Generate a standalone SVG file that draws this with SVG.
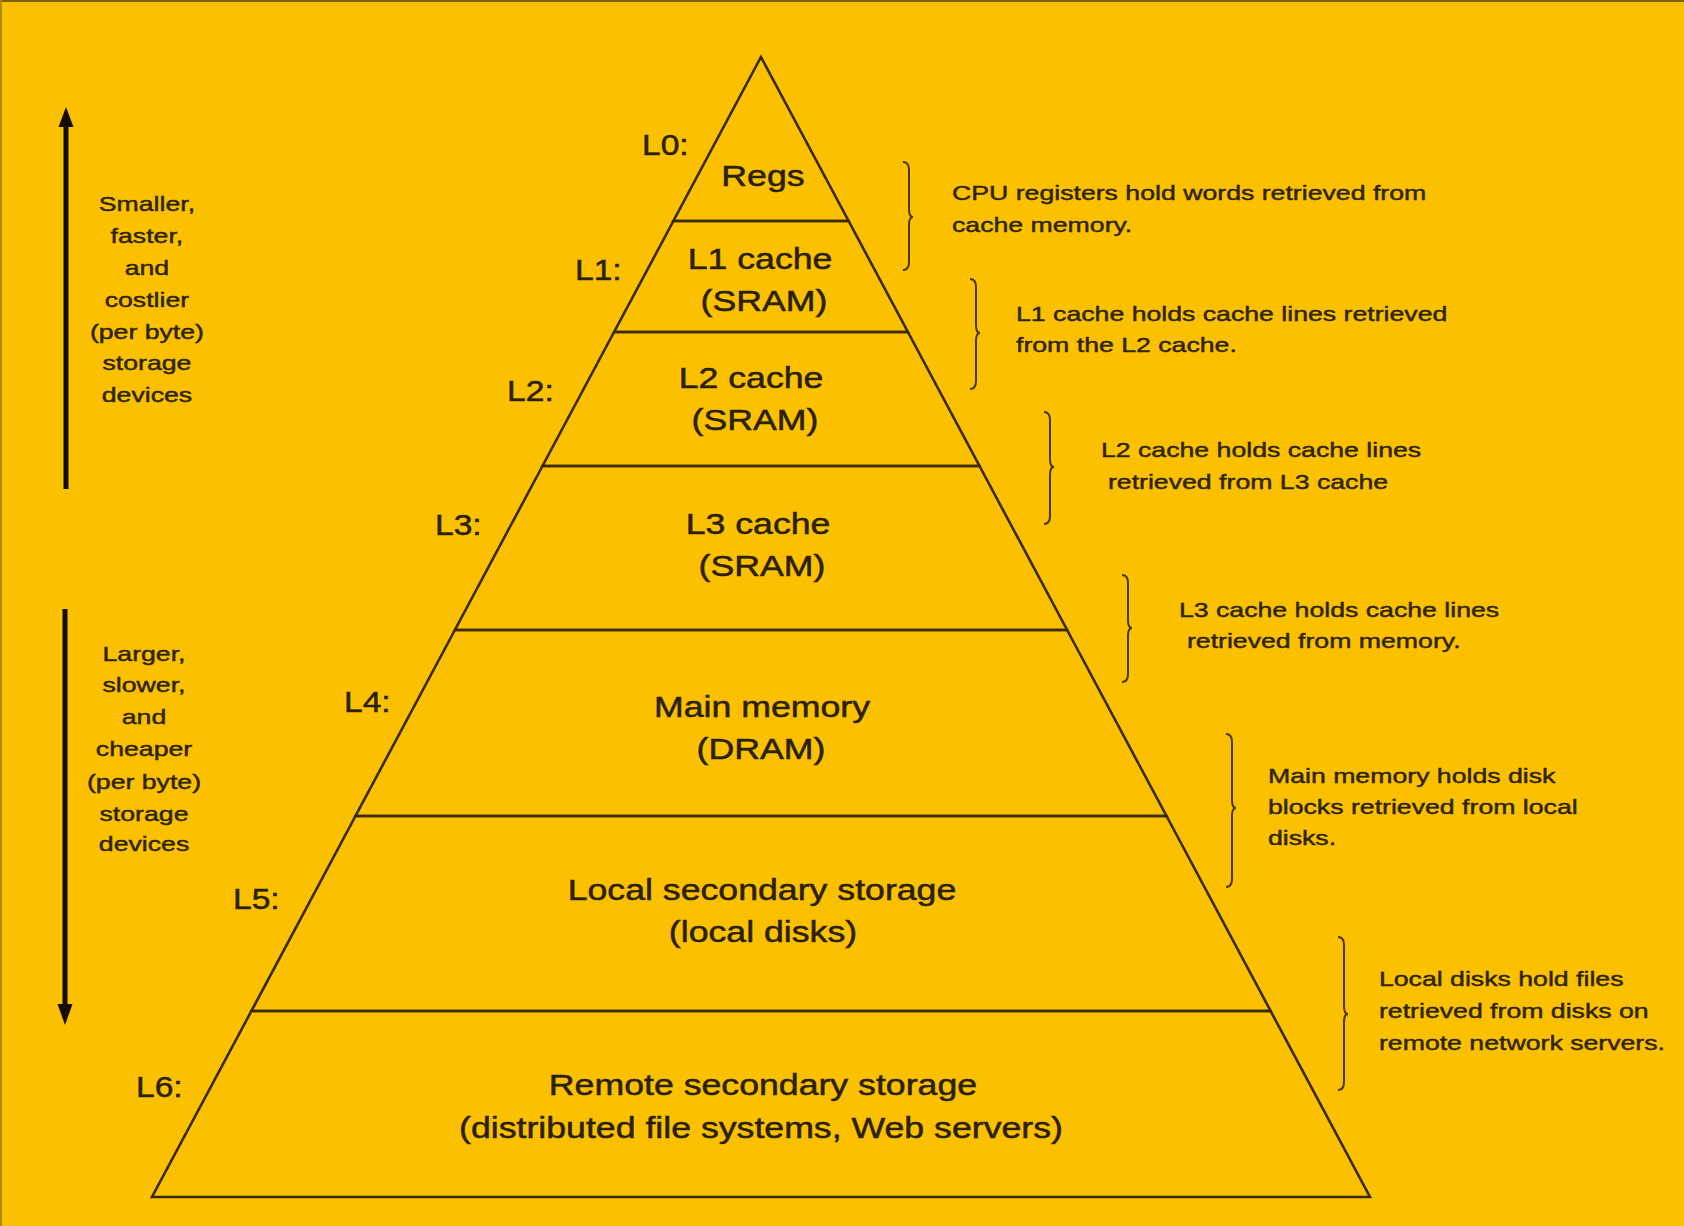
<svg xmlns="http://www.w3.org/2000/svg" width="1684" height="1226" viewBox="0 0 1684 1226">
<defs>
<style>
.bg{fill:#FBC100}
.lvl{fill:none;stroke:#3a2a05;stroke-width:2.6;stroke-linejoin:miter}
.br{fill:none;stroke:#4a3608;stroke-width:2}
.main{font-family:"Liberation Sans",Arial,sans-serif;font-size:29px;fill:#2a2004;stroke:#2a2004;stroke-width:0.5;text-anchor:middle}
.lab{font-family:"Liberation Sans",Arial,sans-serif;font-size:30px;fill:#2a2004;stroke:#2a2004;stroke-width:0.5}
.note{font-family:"Liberation Sans",Arial,sans-serif;font-size:21px;fill:#2e2406;stroke:#2e2406;stroke-width:0.45}
.side{font-family:"Liberation Sans",Arial,sans-serif;font-size:21px;fill:#2e2406;stroke:#2e2406;stroke-width:0.45;text-anchor:middle}
.arr{stroke:#140d00;stroke-width:5;fill:none}
.head{fill:#140d00}
</style>
</defs>
<rect class="bg" x="0" y="0" width="1684" height="1226"/>
<line x1="0" y1="1" x2="1684" y2="1" stroke="#7a6010" stroke-width="2"/>
<line x1="1" y1="0" x2="1" y2="1226" stroke="#b08a00" stroke-width="2"/>

<g id="L0">
<polygon class="lvl" points="761,57 848.6,221 673.4,221"/>
<text class="lab" transform="scale(1.12 1)" x="573.2" y="155">L0:</text>
<text class="main" transform="scale(1.23 1)" x="620.3" y="186.5">Regs</text>
</g>
<g id="L1">
<polygon class="lvl" points="673.4,221 848.6,221 907.9,332 614.1,332"/>
<text class="lab" transform="scale(1.12 1)" x="513.4" y="280">L1:</text>
<text class="main" transform="scale(1.23 1)" x="617.9" y="269">L1 cache</text>
<text class="main" transform="scale(1.23 1)" x="621.1" y="311.5">(SRAM)</text>
</g>
<g id="L2">
<polygon class="lvl" points="614.1,332 907.9,332 979.5,466 542.5,466"/>
<text class="lab" transform="scale(1.12 1)" x="452.7" y="401">L2:</text>
<text class="main" transform="scale(1.23 1)" x="610.6" y="388">L2 cache</text>
<text class="main" transform="scale(1.23 1)" x="613.8" y="430.5">(SRAM)</text>
</g>
<g id="L3">
<polygon class="lvl" points="542.5,466 979.5,466 1067.1,630 454.9,630"/>
<text class="lab" transform="scale(1.12 1)" x="388.4" y="535">L3:</text>
<text class="main" transform="scale(1.23 1)" x="616.3" y="534">L3 cache</text>
<text class="main" transform="scale(1.23 1)" x="619.5" y="576.5">(SRAM)</text>
</g>
<g id="L4">
<polygon class="lvl" points="454.9,630 1067.1,630 1166.5,816 355.5,816"/>
<text class="lab" transform="scale(1.12 1)" x="307.1" y="712">L4:</text>
<text class="main" transform="scale(1.23 1)" x="619.5" y="717">Main memory</text>
<text class="main" transform="scale(1.23 1)" x="618.7" y="759.5">(DRAM)</text>
</g>
<g id="L5">
<polygon class="lvl" points="355.5,816 1166.5,816 1270.6,1011 251.4,1011"/>
<text class="lab" transform="scale(1.12 1)" x="208" y="909">L5:</text>
<text class="main" transform="scale(1.23 1)" x="619.5" y="900">Local secondary storage</text>
<text class="main" transform="scale(1.23 1)" x="620.3" y="942.5">(local disks)</text>
</g>
<g id="L6">
<polygon class="lvl" points="251.4,1011 1270.6,1011 1370,1197 152,1197"/>
<text class="lab" transform="scale(1.12 1)" x="121.4" y="1097">L6:</text>
<text class="main" transform="scale(1.23 1)" x="620.3" y="1095">Remote secondary storage</text>
<text class="main" transform="scale(1.23 1)" x="618.7" y="1138">(distributed file systems, Web servers)</text>
</g>

<g id="connectors">
<line class="arr" x1="66" y1="489" x2="66" y2="122"/>
<polygon class="head" points="66,107 58.5,127 73.5,127"/>
<line class="arr" x1="65" y1="609" x2="65" y2="1008"/>
<polygon class="head" points="65,1025 57.5,1004 72.5,1004"/>
<path class="br" d="M903 162 Q909 162 909 170 L909 209 Q909 217 913 217 Q909 217 909 225 L909 262 Q909 270 903 270"/>
<path class="br" d="M970 279 Q976 279 976 287 L976 325 Q976 333 980 333 Q976 333 976 341 L976 381 Q976 389 970 389"/>
<path class="br" d="M1044 412 Q1050 412 1050 420 L1050 459 Q1050 467 1054 467 Q1050 467 1050 475 L1050 516 Q1050 524 1044 524"/>
<path class="br" d="M1122 575 Q1128 575 1128 583 L1128 620 Q1128 628 1132 628 Q1128 628 1128 636 L1128 674 Q1128 682 1122 682"/>
<path class="br" d="M1226 734 Q1232 734 1232 742 L1232 800 Q1232 808 1236 808 Q1232 808 1232 816 L1232 879 Q1232 887 1226 887"/>
<path class="br" d="M1338 937 Q1344 937 1344 945 L1344 1006 Q1344 1014 1348 1014 Q1344 1014 1344 1022 L1344 1082 Q1344 1090 1338 1090"/>
</g>

<g id="side-top">
<text class="side" transform="scale(1.27 1)" x="115.7" y="211">Smaller,</text>
<text class="side" transform="scale(1.27 1)" x="115.7" y="243">faster,</text>
<text class="side" transform="scale(1.27 1)" x="115.7" y="275">and</text>
<text class="side" transform="scale(1.27 1)" x="115.7" y="307">costlier</text>
<text class="side" transform="scale(1.27 1)" x="115.7" y="339">(per byte)</text>
<text class="side" transform="scale(1.27 1)" x="115.7" y="370">storage</text>
<text class="side" transform="scale(1.27 1)" x="115.7" y="402">devices</text>
</g>
<g id="side-bottom">
<text class="side" transform="scale(1.27 1)" x="113.4" y="661">Larger,</text>
<text class="side" transform="scale(1.27 1)" x="113.4" y="692">slower,</text>
<text class="side" transform="scale(1.27 1)" x="113.4" y="724">and</text>
<text class="side" transform="scale(1.27 1)" x="113.4" y="756">cheaper</text>
<text class="side" transform="scale(1.27 1)" x="113.4" y="789">(per byte)</text>
<text class="side" transform="scale(1.27 1)" x="113.4" y="821">storage</text>
<text class="side" transform="scale(1.27 1)" x="113.4" y="851">devices</text>
</g>

<g id="note-L0">
<text class="note" transform="scale(1.27 1)" x="749.6" y="200">CPU registers hold words retrieved from</text>
<text class="note" transform="scale(1.27 1)" x="749.6" y="232">cache memory.</text>
</g>
<g id="note-L1">
<text class="note" transform="scale(1.27 1)" x="800" y="321">L1 cache holds cache lines retrieved</text>
<text class="note" transform="scale(1.27 1)" x="800" y="352">from the L2 cache.</text>
</g>
<g id="note-L2">
<text class="note" transform="scale(1.27 1)" x="866.9" y="457">L2 cache holds cache lines</text>
<text class="note" transform="scale(1.27 1)" x="872.4" y="489">retrieved from L3 cache</text>
</g>
<g id="note-L3">
<text class="note" transform="scale(1.27 1)" x="928.3" y="617">L3 cache holds cache lines</text>
<text class="note" transform="scale(1.27 1)" x="934.6" y="648">retrieved from memory.</text>
</g>
<g id="note-L4">
<text class="note" transform="scale(1.27 1)" x="998.4" y="783">Main memory holds disk</text>
<text class="note" transform="scale(1.27 1)" x="998.4" y="814">blocks retrieved from local</text>
<text class="note" transform="scale(1.27 1)" x="998.4" y="845">disks.</text>
</g>
<g id="note-L5">
<text class="note" transform="scale(1.27 1)" x="1085.8" y="986">Local disks hold files</text>
<text class="note" transform="scale(1.27 1)" x="1085.8" y="1018">retrieved from disks on</text>
<text class="note" transform="scale(1.27 1)" x="1085.8" y="1050">remote network servers.</text>
</g>
</svg>
